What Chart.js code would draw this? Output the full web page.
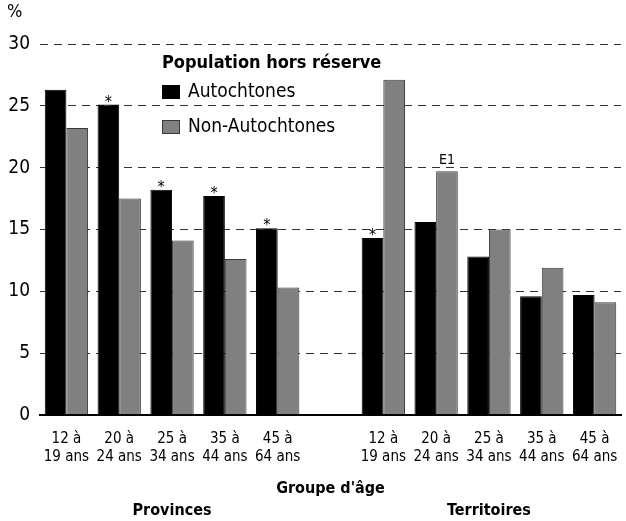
<!DOCTYPE html>
<html lang="fr">
<head>
    <meta charset="UTF-8">
    <title>Population hors réserve</title>
    <script src="https://cdn.jsdelivr.net/npm/chart.js"></script>
    <style>
        body {
            margin: 0;
            padding: 0;
            background: #fff;
        }
        .chart-container {
            position: relative;
            width: 626px;
            height: 521px;
        }
    </style>
</head>
<body>
    <div class="chart-container">
        <canvas id="ageChart"></canvas>
    </div>

    <script>
        const FONT = '"Liberation Sans Narrow", "Arial Narrow", "DejaVu Sans Condensed", sans-serif';

        // categories (blank slot separates provinces and territories)
        const ageLabels = [
            ['12 à', '19 ans'], ['20 à', '24 ans'], ['25 à', '34 ans'], ['35 à', '44 ans'], ['45 à', '64 ans'],
            '',
            ['12 à', '19 ans'], ['20 à', '24 ans'], ['25 à', '34 ans'], ['35 à', '44 ans'], ['45 à', '64 ans']
        ];
        const aboriginal = [26.3, 25.1, 18.2, 17.7, 15.1, null, 14.3, 15.6, 12.8, 9.6, 9.7];
        const nonAboriginal = [23.2, 17.5, 14.1, 12.6, 10.3, null, 27.1, 19.7, 15.0, 11.9, 9.1];
        const aboriginalNotes = ['', '*', '*', '*', '*', '', '*', '', '', '', ''];
        const nonAboriginalNotes = ['', '', '', '', '', '', '', 'E1', '', '', ''];
        const regionGroups = [
            { label: 'Provinces', from: 0, to: 4 },
            { label: 'Territoires', from: 6, to: 10 }
        ];
        const yTicks = [0, 5, 10, 15, 20, 25, 30];

        // notes above bars, legend box, % label and region names
        const extrasPlugin = {
            id: 'extras',
            afterDatasetsDraw(chart) {
                const ctx = chart.ctx;
                const notes = [aboriginalNotes, nonAboriginalNotes];
                ctx.save();
                ctx.fillStyle = '#000';
                ctx.textAlign = 'center';
                ctx.textBaseline = 'bottom';
                notes.forEach((list, di) => {
                    const meta = chart.getDatasetMeta(di);
                    list.forEach((txt, i) => {
                        if (!txt) return;
                        const bar = meta.data[i];
                        if (txt === '*') {
                            ctx.font = '16px ' + FONT;
                            ctx.fillText(txt, bar.x, bar.y + 6);
                        } else {
                            ctx.font = '14px ' + FONT;
                            ctx.fillText(txt, bar.x, bar.y - 4);
                        }
                    });
                });

                // y axis unit
                ctx.textAlign = 'left';
                ctx.textBaseline = 'top';
                ctx.font = '18px ' + FONT;
                ctx.fillText('%', 7, 3);

                // legend
                const lx = 162, ly = 54;
                ctx.font = 'bold 18px ' + FONT;
                ctx.textBaseline = 'middle';
                ctx.fillText('Population hors réserve', lx, ly + 9);
                ctx.font = '19px ' + FONT;
                chart.data.datasets.forEach((ds, i) => {
                    const y = ly + 38 + i * 35;
                    ctx.fillStyle = ds.backgroundColor;
                    ctx.fillRect(lx, y - 7, 18, 14);
                    ctx.strokeStyle = ds.borderColor;
                    ctx.lineWidth = 1;
                    ctx.strokeRect(lx + 0.5, y - 6.5, 17, 13);
                    ctx.fillStyle = '#000';
                    ctx.fillText(ds.label, lx + 26, y);
                });

                // region names under the axis title
                const xs = chart.scales.x;
                ctx.textAlign = 'center';
                ctx.font = 'bold 16px ' + FONT;
                regionGroups.forEach(g => {
                    const cx = (xs.getPixelForValue(g.from) + xs.getPixelForValue(g.to)) / 2;
                    ctx.fillText(g.label, cx, chart.height - 10);
                });
                ctx.restore();
            }
        };

        const ctx = document.getElementById('ageChart').getContext('2d');
        new Chart(ctx, {
            type: 'bar',
            data: {
                labels: ageLabels,
                datasets: [
                    {
                        label: 'Autochtones',
                        data: aboriginal,
                        backgroundColor: '#000000',
                        borderColor: '#000000',
                        borderWidth: 1
                    },
                    {
                        label: 'Non-Autochtones',
                        data: nonAboriginal,
                        backgroundColor: '#808080',
                        borderColor: '#3a3a3a',
                        borderWidth: 1
                    }
                ]
            },
            options: {
                responsive: true,
                maintainAspectRatio: false,
                animation: false,
                layout: {
                    padding: { top: 44, right: 5, bottom: 23, left: 0 }
                },
                datasets: {
                    bar: {
                        categoryPercentage: 0.82,
                        barPercentage: 1.0
                    }
                },
                plugins: {
                    legend: { display: false },
                    tooltip: { enabled: false }
                },
                scales: {
                    x: {
                        grid: { display: false },
                        border: { display: true, color: '#000', width: 2 },
                        ticks: {
                            color: '#000',
                            font: { family: FONT, size: 15 },
                            padding: 7,
                            maxRotation: 0,
                            autoSkip: false
                        },
                        title: {
                            display: true,
                            text: "Groupe d'âge",
                            color: '#000',
                            font: { family: FONT, size: 16, weight: 'bold' },
                            padding: { top: 6, bottom: 0 }
                        }
                    },
                    y: {
                        min: 0,
                        max: 30,
                        afterFit(scale) { scale.width = 40; },
                        afterBuildTicks(scale) {
                            scale.ticks = yTicks.map(v => ({ value: v }));
                        },
                        grid: {
                            color: '#333',
                            lineWidth: 1,
                            drawTicks: false
                        },
                        border: { display: false, dash: [8, 6] },
                        ticks: {
                            color: '#000',
                            font: { family: FONT, size: 19 },
                            padding: 10
                        }
                    }
                }
            },
            plugins: [extrasPlugin]
        });
    </script>
</body>
</html>
